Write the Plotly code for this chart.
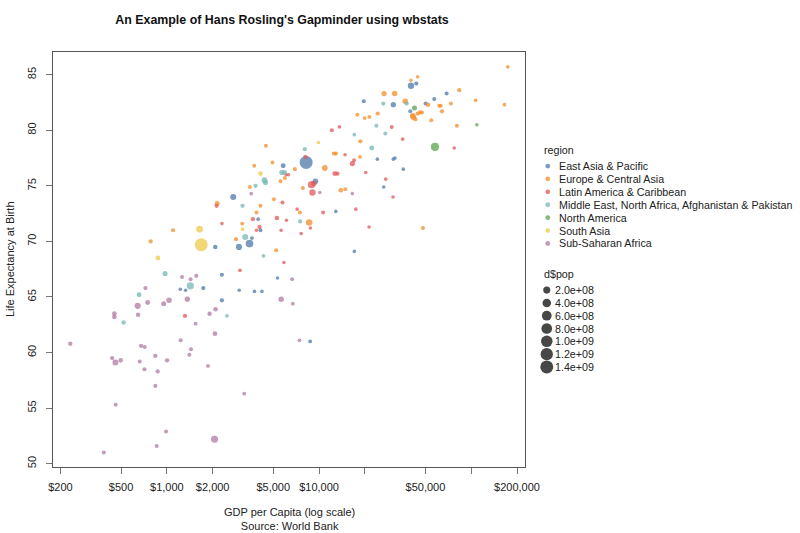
import math
import plotly.graph_objects as go

# regions and tableau-10 colours (ggthemes)
regions = ["East Asia & Pacific", "Europe & Central Asia", "Latin America & Caribbean",
           "Middle East, North Africa, Afghanistan & Pakistan", "North America",
           "South Asia", "Sub-Saharan Africa"]
colors = ["#4E79A7", "#F28E2B", "#E15759", "#76B7B2", "#59A14F", "#EDC948", "#B07AA1"]

# East Asia & Pacific
eap_gdp = [2300, 1735, 1226, 1328, 2300, 2990, 3767, 4213, 5333, 8741, 17070, 2080, 2977,
           3493, 3622, 4124, 3983, 12890, 2731, 5813, 8228, 9470, 24160, 30770, 31570,
           35780, 26620, 19670, 30770, 39770, 40190, 43550, 50200, 57170, 68950]
eap_life = [67.0, 65.8, 65.7, 65.6, 64.7, 65.6, 65.5, 65.5, 66.7, 61.0, 69.1, 69.5, 69.5,
            69.8, 70.3, 71.0, 72.0, 72.7, 74.0, 76.8, 77.1, 75.4, 77.4, 77.4, 77.5,
            76.5, 74.9, 82.6, 82.3, 81.7, 84.0, 84.2, 82.4, 82.8, 83.3]
eap_pop = [7e6, 9e6, 1e5, 1e5, 1e7, 1e5, 1e5, 1e5, 1e5, 1e6, 1e5, 1.6e7, 1.1e8,
           2.7e8, 1e6, 3e6, 1e6, 1e5, 9.7e7, 3.2e7, 1.4e9, 7e7, 1e5, 1e5, 1e5,
           1e5, 1e5, 5e6, 5.2e7, 5e6, 1.26e8, 7e6, 5e6, 5e6, 5e6]

# Europe & Central Asia
eca_gdp = [783, 1098, 2144, 3128, 2845, 3514, 3883, 4124, 4476, 3750, 4945, 5051, 5229,
           5580, 5964, 6937, 7481, 7828, 8610, 10910, 12500, 12890, 13900, 14900,
           17860, 18690, 18600, 19970, 21410, 24310, 26740, 31420, 36880, 40190, 44480,
           41240, 41610, 42890, 44480, 46050, 47460, 51960, 54630, 61660, 62970, 64220,
           73560, 80540, 83400, 106840, 165500, 174000, 48190]
eca_life = [70.0, 71.0, 73.4, 71.6, 70.2, 74.9, 72.6, 73.2, 78.6, 76.8, 77.1, 73.8, 69.2,
            75.4, 75.7, 76.5, 72.6, 74.8, 71.7, 76.6, 77.9, 77.9, 74.6, 74.7,
            81.4, 79.0, 77.6, 81.1, 81.2, 81.5, 83.3, 83.3, 82.6, 84.5, 84.8,
            81.3, 81.2, 81.0, 81.5, 81.6, 81.6, 82.3, 80.9, 82.2, 82.2, 81.7,
            82.4, 80.4, 83.6, 82.7, 82.3, 85.7, 71.2]
eca_pop = [9e6, 6e6, 3.4e7, 3e6, 6e6, 3e6, 3e6, 3e6, 3e6, 3e6, 3e6, 4e6, 5e6,
           4e6, 4e6, 7e6, 4e6, 4e6, 1.45e8, 8.4e7, 4e6, 1e7, 1.9e7, 3e6,
           5e6, 1e7, 2e6, 1e6, 2e6, 1e7, 4.7e7, 6e7, 6.7e7, 4e4, 4e4,
           6.7e7, 8.3e7, 1.1e7, 9e6, 1e7, 5e6, 1.7e7, 5e6, 5e6, 5e6, 9e6,
           5e6, 5e6, 8e6, 6e5, 6e5, 4e4, 5e6]

# Latin America & Caribbean
lac_gdp = [1316, 2122, 2302, 3022, 3677, 3883, 4063, 5285, 5639, 5752, 5874, 6082, 6298,
           6110, 7181, 7629, 8142, 8780, 8914, 9244, 9050, 10640, 12130, 13610,
           12690, 13200, 14830, 16560, 16990, 17440, 20280, 21310, 27430, 30030, 30630,
           35460, 77320]
lac_life = [63.3, 73.2, 71.6, 67.4, 72.0, 71.0, 71.3, 72.1, 71.0, 73.5, 68.1, 76.0, 76.0,
            71.9, 72.9, 70.7, 77.6, 71.2, 75.1, 75.2, 74.4, 72.6, 80.0, 80.3,
            76.1, 76.1, 77.8, 77.0, 77.3, 72.9, 76.2, 71.3, 75.6, 80.3, 74.0,
            79.2, 78.4]
lac_pop = [1.1e7, 6e6, 1e5, 7e5, 1e7, 1e5, 1e7, 1.7e7, 1e5, 6e6, 1e5, 1e5, 1e5,
           1e5, 1e5, 1e5, 1.1e7, 1e5, 2.1e8, 5e7, 1.28e8, 3e6, 5e6, 1e5,
           3e7, 1.1e7, 1e5, 4.5e7, 3e6, 1e5, 1e5, 1e5, 1e5, 3e6, 1e5,
           1e5, 5e4]

# Middle East, North Africa, Afghanistan & Pakistan
mena_gdp = [520, 657, 973, 1426, 2483, 3142, 3273, 3824, 4316, 4381, 4448, 5699, 5928,
            7515, 8068, 17070, 22200, 23800, 26450, 27270, 37670]
mena_life = [62.7, 65.2, 67.1, 66.0, 63.3, 73.2, 70.4, 75.0, 68.7, 75.5, 75.3, 76.2, 76.2,
             71.8, 78.3, 79.6, 78.4, 80.4, 82.4, 79.7, 82.4]
mena_pop = [1.7e7, 3e7, 3.8e7, 2.2e8, 1e6, 1e7, 1e8, 1e7, 1e6, 8.4e7, 4e7, 4.4e7, 3.7e7,
            7e6, 7e6, 1e6, 3.4e7, 5e6, 9e6, 4e6, 1e7]

# North America
na_gdp = [42400, 57780, 108950]
na_life = [82.0, 78.5, 80.5]
na_pop = [3.8e7, 3.3e8, 6e4]

# South Asia
sa_gdp = [873, 1641, 1683, 3142, 4124, 9910]
sa_life = [68.5, 71.1, 69.7, 71.1, 76.1, 78.9]
sa_pop = [3e7, 1.65e8, 1.38e9, 8e5, 2.2e7, 5e5]

# Sub-Saharan Africa
ssa_gdp = [232, 385, 437, 459, 497, 452, 452, 461, 643, 647, 663, 677, 715, 712, 723, 748,
           840, 840, 857, 870, 953, 988, 1003, 1034, 1232, 1258, 1363, 1405, 1441,
           1432, 1545, 1561, 1863, 1908, 2058, 2071, 2090, 3224, 3584, 5639, 6659, 6730,
           7437, 10120, 16560]
ssa_life = [60.8, 51.0, 59.5, 59.1, 59.3, 63.5, 63.2, 55.3, 64.2, 63.4, 59.2, 60.6, 60.5,
            58.5, 65.8, 64.5, 59.7, 57.0, 51.6, 58.3, 64.4, 52.9, 59.3, 64.7, 61.1, 66.8,
            64.8, 59.8, 60.3, 66.6, 62.6, 66.9, 58.8, 63.5, 52.2, 61.7, 63.9, 56.3, 74.3,
            64.8, 66.6, 64.4, 61.1, 74.4, 74.3]
ssa_pop = [1.2e7, 5e6, 8e6, 9e7, 2e7, 2.5e7, 2e7, 5e6, 1.1e8, 1.5e7, 5e6, 8e6, 5e6,
           5e6, 8e6, 3e7, 1e7, 5e6, 5e6, 1e7, 3.5e7, 5e6, 1.2e7, 6e7, 5e6, 5e6,
           5.4e7, 5e6, 5e6, 5e6, 3e6, 5e6, 3e6, 1.5e7, 2e8, 2.5e7, 2e7, 1e6, 5e5,
           5.9e7, 2e6, 2e6, 1e6, 1e5, 1e5]

series = [
    (eap_gdp, eap_life, eap_pop),
    (eca_gdp, eca_life, eca_pop),
    (lac_gdp, lac_life, lac_pop),
    (mena_gdp, mena_life, mena_pop),
    (na_gdp, na_life, na_pop),
    (sa_gdp, sa_life, sa_pop),
    (ssa_gdp, ssa_life, ssa_pop),
]

pop_breaks = [2e8, 4e8, 6e8, 8e8, 1e9, 1.2e9, 1.4e9]
pop_labels = ["2.0e+08", "4.0e+08", "6.0e+08", "8.0e+08", "1.0e+09", "1.2e+09", "1.4e+09"]

x_tickvals = [200, 500, 1000, 2000, 5000, 10000, 20000, 50000, 100000, 200000]
x_ticktext = ["$200", "$500", "$1,000", "$2,000", "$5,000", "$10,000", "", "$50,000", "", "$200,000"]

FONT = "Liberation Sans, Arial, sans-serif"
TEXT = "#222222"
LEG = 10.7

# panel edges in pixels
L, R, T, B = 52.5, 525.2, 52, 466.8


def px_x(px):
    return (px - L) / (R - L)


def px_y(py):
    return (B - py) / (B - T)


def dot_size(pop):
    # area-like scale with a floor, like ggplot's scale_size
    return 3.5 + 9.5 * math.sqrt(pop / 1.4e9)


fig = go.Figure()

for (gdp, life, pop), name, col in zip(series, regions, colors):
    fig.add_trace(go.Scatter(
        x=gdp, y=life, mode='markers', name=name, showlegend=False,
        marker=dict(size=[dot_size(p) for p in pop], color=col, opacity=0.75,
                    line=dict(width=0)),
    ))

annotations = []
shapes = []

# region legend
annotations.append(dict(text="region", x=px_x(542.7), y=px_y(150), xref='paper', yref='paper',
                        xanchor='left', yanchor='middle', showarrow=False,
                        font=dict(size=LEG, color=TEXT, family=FONT)))
for i, (name, col) in enumerate(zip(regions, colors)):
    yy = 166 + i * 12.9
    r = 2.4
    shapes.append(dict(type='circle', xref='paper', yref='paper', xsizemode='pixel', ysizemode='pixel',
                       xanchor=px_x(548), yanchor=px_y(yy), x0=-r, x1=r, y0=-r, y1=r,
                       fillcolor=col, opacity=0.75, line=dict(width=0)))
    annotations.append(dict(text=name, x=px_x(557.7), y=px_y(yy), xref='paper', yref='paper',
                            xanchor='left', yanchor='middle', showarrow=False,
                            font=dict(size=LEG, color=TEXT, family=FONT)))

# size legend
annotations.append(dict(text="d$pop", x=px_x(542.7), y=px_y(273.5), xref='paper', yref='paper',
                        xanchor='left', yanchor='middle', showarrow=False,
                        font=dict(size=LEG, color=TEXT, family=FONT)))
for i, (p, lab) in enumerate(zip(pop_breaks, pop_labels)):
    yy = 290 + i * 12.8
    r = dot_size(p) / 2
    shapes.append(dict(type='circle', xref='paper', yref='paper', xsizemode='pixel', ysizemode='pixel',
                       xanchor=px_x(547), yanchor=px_y(yy), x0=-r, x1=r, y0=-r, y1=r,
                       fillcolor="#333333", opacity=0.9, line=dict(width=0)))
    annotations.append(dict(text=lab, x=px_x(553.5), y=px_y(yy), xref='paper', yref='paper',
                            xanchor='left', yanchor='middle', showarrow=False,
                            font=dict(size=LEG, color=TEXT, family=FONT)))

# axis titles
annotations.append(dict(text="GDP per Capita (log scale)<br>Source: World Bank",
                        x=0.5, y=px_y(519), xref='paper', yref='paper',
                        xanchor='center', yanchor='middle', showarrow=False,
                        font=dict(size=11, color=TEXT, family=FONT)))
annotations.append(dict(text="Life Expectancy at Birth", textangle=-90,
                        x=px_x(9), y=0.5, xref='paper', yref='paper',
                        xanchor='center', yanchor='middle', showarrow=False,
                        font=dict(size=11, color=TEXT, family=FONT)))

fig.update_layout(
    width=800, height=533,
    margin=dict(l=L, r=800 - R, t=T, b=533 - B),
    paper_bgcolor='white', plot_bgcolor='white',
    font=dict(family=FONT, size=11, color=TEXT),
    title=dict(text="An Example of Hans Rosling's Gapminder using wbstats",
               x=282 / 800, y=1 - 20 / 533, xanchor='center', yanchor='middle',
               font=dict(size=12.4, color="#111111", family=FONT, weight='bold')),
    showlegend=False,
    annotations=annotations,
    shapes=shapes,
)

fig.update_xaxes(
    type='log', range=[2.2518, 5.3535],
    tickvals=x_tickvals, ticktext=x_ticktext,
    ticks='outside', ticklen=6, tickcolor='#777777',
    showline=True, linecolor='#555555', linewidth=1, mirror=True,
    showgrid=False, zeroline=False, ticklabelstandoff=4,
    tickfont=dict(size=11, color=TEXT, family=FONT),
)
fig.update_yaxes(
    range=[49.703, 87.039],
    tickvals=[50, 55, 60, 65, 70, 75, 80, 85],
    ticks='outside', ticklen=6, tickcolor='#777777', tickangle=-90,
    showline=True, linecolor='#555555', linewidth=1, mirror=True,
    showgrid=False, zeroline=False, ticklabelstandoff=6,
    tickfont=dict(size=11, color=TEXT, family=FONT),
)

# the page body has a default 8px margin; remove it so the figure sits at the corner
fig.write_html("out.html", config={'displayModeBar': False},
               post_script="document.body.style.margin='0';")
